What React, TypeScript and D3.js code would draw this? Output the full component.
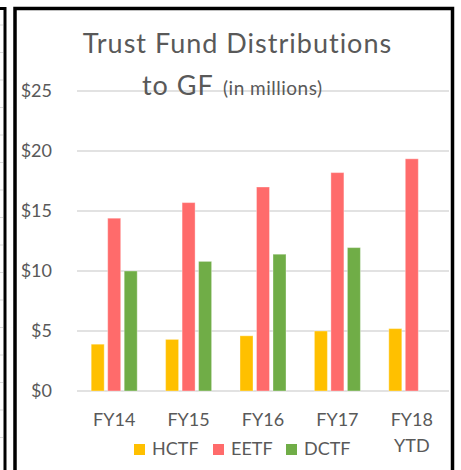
import React from "react";
import * as d3 from "d3";

const categories = ["FY14", "FY15", "FY16", "FY17", "FY18\nYTD"];
const seriesNames = ["HCTF", "EETF", "DCTF"];
const seriesColors = ["#FFC000", "#FF6B6B", "#70AD47"];
const hctf = [3.9, 4.3, 4.6, 5.0, 5.2];
const eetf = [14.4, 15.7, 17.0, 18.2, 19.35];
const dctf: (number | null)[] = [10.0, 10.8, 11.4, 11.95, null];
const yTicks = [0, 5, 10, 15, 20, 25];
const yTickLabels = ["$0", "$5", "$10", "$15", "$20", "$25"];

const W = 461;
const H = 470;
const FONT = "Lato, 'Open Sans', sans-serif";
const TEXT = "#595959";

export default function App() {
  const x0 = d3.scaleBand<string>().domain(categories).range([77, 449]).paddingInner(0).paddingOuter(0);
  const x1 = d3
    .scaleBand<string>()
    .domain(seriesNames)
    .range([0, x0.bandwidth()])
    .paddingInner(0.212)
    .paddingOuter(0.86);
  const y = d3.scaleLinear().domain([0, 25]).range([391, 91]);
  const seriesData = [hctf, eetf, dctf];

  const leftTicks = d3.range(25, 465, 27.5);

  return (
    <svg
      width={W}
      height={H}
      style={{ position: "absolute", left: 0, top: 0, background: "#fff" }}
      fontFamily={FONT}
    >
      <rect x={0} y={0} width={W} height={H} fill="#fff" />
      {/* neighbouring chart edge */}
      {leftTicks.map((t, i) => (
        <line key={i} x1={0} x2={3} y1={t} y2={t} stroke="#d9d9d9" strokeWidth={1} />
      ))}
      <path d={`M0,8.5 H5 V${H}`} fill="none" stroke="#000" strokeWidth={3} />
      {/* main box */}
      <path d={`M15,${H + 5} V8.5 H452.5 V${H + 5}`} fill="none" stroke="#000" strokeWidth={3.5} />

      {/* gridlines */}
      {yTicks.map((t) => (
        <line key={t} x1={77} x2={449} y1={y(t)} y2={y(t)} stroke="#D9D9D9" strokeWidth={1.3} />
      ))}
      {/* y labels */}
      {yTicks.map((t, i) => (
        <text key={t} x={52} y={y(t)} dy="0.35em" textAnchor="end" fontSize={18} fill={TEXT}>
          {yTickLabels[i]}
        </text>
      ))}

      {/* bars */}
      {seriesData.map((vals, si) =>
        vals.map((v, ci) =>
          v == null ? null : (
            <rect
              key={`${si}-${ci}`}
              x={(x0(categories[ci]) as number) + (x1(seriesNames[si]) as number)}
              y={y(v)}
              width={x1.bandwidth()}
              height={y(0) - y(v)}
              fill={seriesColors[si]}
              stroke="rgba(255,255,255,0.35)"
              strokeWidth={1}
            />
          )
        )
      )}

      {/* x labels */}
      {categories.map((c) => {
        const cx = (x0(c) as number) + x0.bandwidth() / 2;
        const lines = c.split("\n");
        return (
          <text key={c} x={cx} y={426} textAnchor="middle" fontSize={18} fill={TEXT}>
            {lines.map((l, i) => (
              <tspan key={i} x={cx} dy={i === 0 ? 0 : 26}>
                {l}
              </tspan>
            ))}
          </text>
        );
      })}

      {/* title */}
      <text x={237.5} y={53} textAnchor="middle" fontSize={27} letterSpacing={1} fill={TEXT}>
        Trust Fund Distributions
      </text>
      <text x={142} y={95} fontSize={27} letterSpacing={1} fill={TEXT}>
        to GF
      </text>
      <text x={223} y={95} fontSize={19} letterSpacing={0.5} fill={TEXT}>
        (in millions)
      </text>

      {/* legend */}
      {seriesNames.map((s, i) => {
        const lx = [134, 213, 286][i];
        return (
          <g key={s}>
            <rect x={lx} y={444} width={11} height={11} fill={seriesColors[i]} />
            <text x={lx + 18} y={454.5} fontSize={18} fill={TEXT}>
              {s}
            </text>
          </g>
        );
      })}
    </svg>
  );
}
